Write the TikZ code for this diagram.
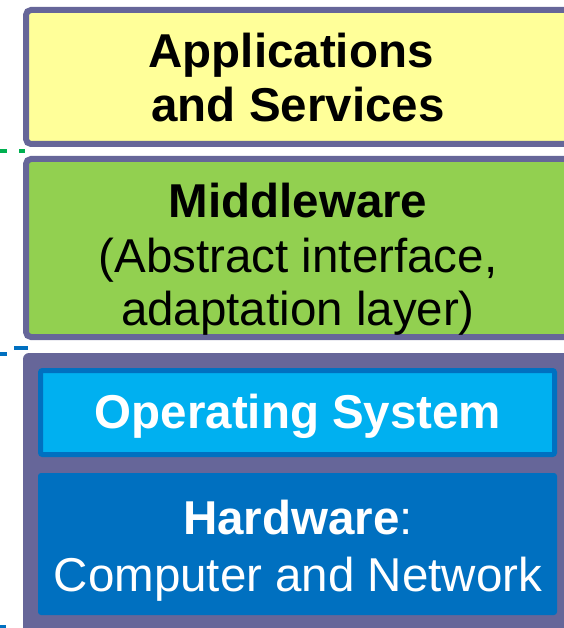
\documentclass[tikz,border=0pt]{standalone}
\usepackage{fontspec}
\setmainfont{Liberation Sans}
\definecolor{lpurple}{HTML}{666699}
\definecolor{lyellow}{HTML}{FFFF99}
\definecolor{lgreen}{HTML}{92D050}
\definecolor{lcyan}{HTML}{00B0F0}
\definecolor{lblue}{HTML}{0070C0}
\definecolor{dgreen}{HTML}{00B050}
\tikzset{
  layer/.style={draw=lpurple, line width=6pt, rounded corners=5pt},
  bigtext/.style={anchor=base, inner sep=0pt, font=\fontsize{47.5}{54}\selectfont},
  dashg/.style={draw=dgreen, line width=4pt},
  dashb/.style={draw=lblue, line width=4pt},
}
\begin{document}
\begin{tikzpicture}[x=1pt,y=-1pt]
\useasboundingbox (0,0) rectangle (563,628);
% layers
\path[layer, fill=lyellow] (26,10) rectangle (590,144);
\path[layer, fill=lgreen] (26,159) rectangle (590,337);
\path[fill=lpurple, rounded corners=6pt] (23,353) rectangle (590,660);
\path[draw=lblue, fill=lcyan, line width=5pt, rounded corners=2pt] (40.5,370.5) rectangle (554.5,454.5);
\path[fill=lblue, rounded corners=3pt] (38,473) rectangle (557,615);
% text nodes
\node[bigtext] (app1) at (291,68) {\bfseries Applications};
\node[bigtext] (app2) at (298,122) {\bfseries and Services};
\node[bigtext] (mw1) at (298,218) {\bfseries Middleware};
\node[bigtext] (mw2) at (298,272) {(Abstract interface,};
\node[bigtext] (mw3) at (298,325) {adaptation layer)};
\node[bigtext, text=white] (os) at (298,428) {\bfseries Operating System};
\node[bigtext, text=white] (hw1) at (298,534) {\textbf{Hardware}:};
\node[bigtext, text=white] (hw2) at (298,591) {Computer and Network};
% dash fragments on the left
\coordinate (g1a) at (0,151.5); \coordinate (g1b) at (7,151.5);
\coordinate (g2a) at (19,151.5); \coordinate (g2b) at (25,151.5);
\coordinate (b1a) at (14,347.5); \coordinate (b1b) at (28,347.5);
\coordinate (b2a) at (0,353.5); \coordinate (b2b) at (7,353.5);
\coordinate (b3a) at (0,627); \coordinate (b3b) at (6,627);
\draw[dashg] (g1a) -- (g1b);
\draw[dashg] (g2a) -- (g2b);
\draw[dashb] (b1a) -- (b1b);
\draw[dashb] (b2a) -- (b2b);
\draw[dashb] (b3a) -- (b3b);
\end{tikzpicture}
\end{document}
